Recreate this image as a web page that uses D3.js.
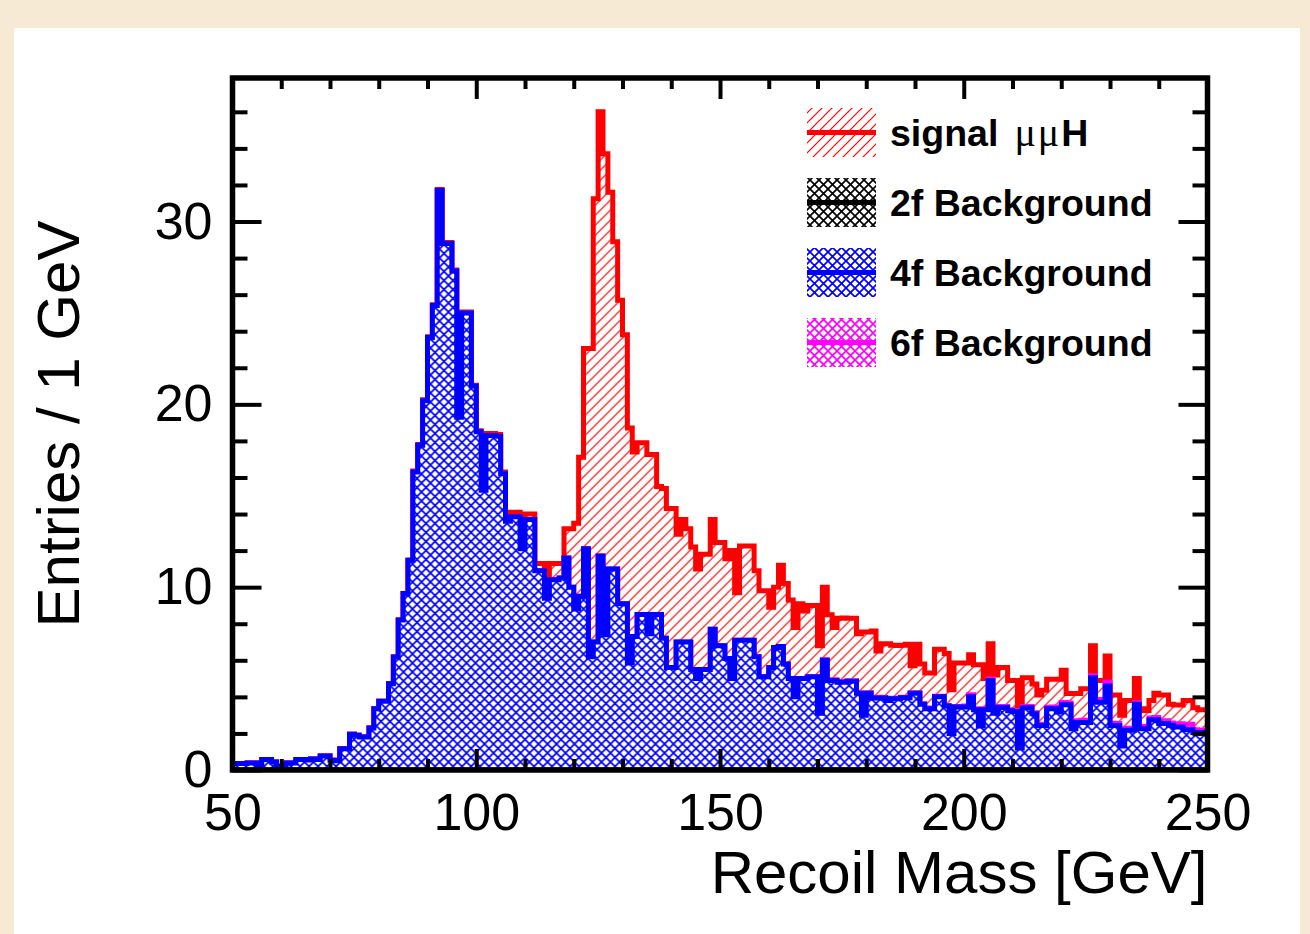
<!DOCTYPE html>
<html>
<head>
<meta charset="utf-8">
<script src="https://cdn.jsdelivr.net/npm/d3@7"></script>
<style>
  html, body { margin: 0; padding: 0; background: #f6ead5; }
  svg { display: block; }
  text { font-family: "Liberation Sans", Arial, Helvetica, sans-serif; }
</style>
</head>
<body>
<svg id="chart"></svg>
<script>
// axis labels / ticks
const xTicks = [50, 100, 150, 200, 250];
const yTicks = [0, 10, 20, 30];
const xTitle = "Recoil Mass [GeV]";
const yTitle = "Entries / 1 GeV";

// 1 GeV bins from 50 to 250
const binEdges = d3.range(50, 251, 1);

// per-bin entries
const sigMuMuH = [
  0,0,0,0,0,0,0,0,0,0,
  0,0,0,0,0,0,0,0,0,0,
  0,0,0,0,0,0,0,0,0,0,
  0,0,0,0,0,0,0,0.05,0.05,0.05,
  0.05,0.05,0.05,0.05,0.05,0.05,0.05,0.05,0.05,0.05,
  0.05,0.05,0.1,0.1,0.1,0.1,0.1,0.25,0.25,0.1,
  0.3,0.3,0.4,0.4,0.5,0.9,0.9,0.8,1.6,3.2,
  4.7,7.6,10.95,16.85,24.25,24.3,26.3,20.6,17.9,16.6,
  14.7,12.85,10.1,9.4,9.4,9.8,8.75,7.0,8.2,8.7,
  8.7,5.9,6.7,6.2,6.7,6.0,6.3,6.3,6.0,5.64,
  5.64,5.46,7.0,2.6,5.15,5.15,5.15,4.7,4.7,4.7,
  3.3,3.3,4.45,4.4,4.3,3.8,4.1,3.7,3.9,3.9,
  3.67,3.97,3.57,2.87,3.47,3.47,3.42,3.42,3.23,4.52,
  3.32,3.63,2.53,2.93,3.07,2.89,2.89,2.84,2.9,1.47,
  2.65,2.17,1.92,1.92,2.57,2.57,2.84,2.36,2.37,2.37,
  2.35,2.18,2.41,3.32,1.65,1.92,2.04,2.13,2.13,1.6,
  1.65,2.06,1.59,1.58,1.57,1.61,1.86,1.53,1.51,1.69,
  1.76,0.51,1.84,1.48,1.72,1.74,1.65,1.08,1.05,1.44,
  1.54,1.56,1.57,1.51,1.53,1.32,0.97,0.87,0.95,1.33,
  1.4,1.4,1.03,1.05,1.02,1.3,1.3,1.2,1.13,1.13
];

const bkg2f = [
  0,0,0,0,0,0,0,0,0,0, 0,0,0,0,0,0,0,0,0,0,
  0,0,0,0,0,0,0,0,0,0, 0,0,0,0,0,0,0,0,0,0,
  0,0,0,0,0,0,0,0,0,0, 0,0,0,0,0,0,0,0,0,0,
  0,0,0,0,0,0,0,0,0,0, 0,0,0,0,0,0,0,0,0,0,
  0,0,0,0,0,0,0,0,0,0, 0,0,0,0,0,0,0,0,0,0,
  0,0,0,0,0,0,0,0,0,0, 0,0,0,0,0,0,0,0,0,0,
  0,0,0,0,0,0,0,0,0,0, 0,0,0,0,0,0,0,0,0,0,
  0,0,0,0,0,0,0,0,0,0, 0,0,0,0,0,0,0,0,0,0,
  0,0,0,0,0,0,0,0,0,0, 0,0,0,0,0,0,0,0,0,0,
  0,0,0,0,0,0,0,0,0,0, 0,0,0,0,0,0,0,0,0,0
];

const bkg4f = [
  0.35,0.35,0.35,0.38,0.38,0.2,0.58,0.58,0.44,0.2,
  0.2,0.38,0.38,0.58,0.58,0.55,0.6,0.58,0.77,0.77,
  0.53,0.5,1.16,1.16,1.95,1.9,1.8,1.8,2.3,3.35,
  3.76,3.76,4.72,6.18,8.2,9.65,11.47,16.3,17.76,20.2,
  23.65,25.4,31.7,28.8,28.8,27.3,19.3,25.0,25.0,21.0,
  18.5,15.3,18.3,18.3,18.25,16.2,13.6,13.85,13.85,12.1,
  13.7,13.7,10.9,10.9,9.4,10.4,10.4,10.5,11.6,10.0,
  8.8,9.5,12.1,6.2,7.0,11.7,7.4,11.0,11.0,9.1,
  9.1,5.85,7.3,8.5,8.5,7.45,8.5,8.5,7.2,5.6,
  5.6,7.0,7.0,7.0,5.5,5.0,5.5,5.5,7.7,6.8,
  6.8,6.1,5.0,7.1,7.1,7.1,7.1,6.2,5.1,5.1,
  5.6,6.7,6.75,5.8,5.0,4.0,5.0,5.0,5.1,5.1,
  3.1,6.0,4.9,4.9,4.8,4.8,4.85,4.85,4.2,3.0,
  4.2,3.94,3.94,3.94,3.8,3.9,3.9,3.95,3.95,4.2,
  4.2,3.6,3.35,3.35,4.0,4.0,3.5,2.0,3.45,3.45,
  3.45,4.0,3.3,2.4,3.3,4.9,3.1,3.42,3.42,3.24,
  3.2,1.2,3.4,3.4,3.08,2.44,2.44,3.35,3.35,3.17,
  3.57,3.57,2.26,2.6,2.6,2.6,5.05,3.7,3.7,4.6,
  2.44,2.44,1.31,2.17,2.17,3.6,2.26,2.26,2.75,2.75,
  2.55,2.55,2.45,2.35,2.35,2.2,2.2,2.05,2.05,2.05
];

const bkg6f = [
  0,0,0,0,0,0,0,0,0,0, 0,0,0,0,0,0,0,0,0,0,
  0,0,0,0,0,0,0,0,0,0, 0,0,0,0,0,0,0,0,0,0,
  0,0,0,0,0,0,0,0,0,0, 0,0,0,0,0,0,0,0,0,0,
  0,0,0,0,0,0,0,0,0,0, 0,0,0,0,0,0,0,0,0,0,
  0,0,0,0,0,0,0,0,0,0, 0,0,0,0,0,0,0,0,0,0,
  0,0,0,0,0,0,0,0,0,0, 0,0,0,0,0,0,0,0,0,0,
  0.03,0.03,0.02,0.03,0.03,0.04,0.03,0.03,0.02,0.03,
  0.03,0.03,0.04,0.03,0.03,0.03,0.02,0.03,0.03,0.03,
  0.03,0.03,0.03,0.04,0.03,0.03,0.03,0.03,0.03,0.03,
  0.05,0.12,0.05,0.04,0.05,0.08,0.06,0.05,0.05,0.06,
  0.05,0.04,0.06,0.07,0.05,0.05,0.06,0.08,0.1,0.1,
  0.12,0.1,0.08,0.1,0.12,0.1,0.1,0.12,0.15,0.2,
  0.12,0.1,0.12,0.12,0.1,0.08,0.12,0.12,0.1,0.12,
  0.15,0.15,0.12,0.15,0.18,0.3,0.3,0.15,0.12,0.12
];

// stack order, bottom first
const stackKeys = ["f2", "f4", "f6", "sig"];
const legendRows = [
  { key: "sig", label: "signal", color: "#ff0000", fill: "hatchSig" },
  { key: "f2", label: "2f Background", color: "#000000", fill: "cross2f" },
  { key: "f4", label: "4f Background", color: "#0000ff", fill: "cross4f" },
  { key: "f6", label: "6f Background", color: "#ff00ff", fill: "cross6f" }
];

class StackedHist {
  margin = {
    top: 78, right: 102.5, bottom: 164, left: 232.5
  }

  constructor(svg, width = 975, height = 692) {
    this.svg = svg;
    this.width = width;
    this.height = height;
  }

  initialize() {
    this.svg = d3.select(this.svg)
      .attr("width", 1310)
      .attr("height", 934);

    // paper
    this.svg.append("rect")
      .attr("x", 0).attr("y", 0).attr("width", 1310).attr("height", 934)
      .attr("fill", "#f6ead5");
    this.svg.append("rect")
      .attr("x", 14).attr("y", 28).attr("width", 1286).attr("height", 920)
      .attr("fill", "#ffffff");

    this.defs = this.svg.append("defs");
    this.makePatterns();

    this.xScale = d3.scaleLinear().domain([50, 250]).range([0, this.width]);
    this.yScale = d3.scaleLinear().domain([0, 37.85]).range([this.height, 0]);

    this.container = this.svg.append("g")
      .attr("transform", `translate(${this.margin.left}, ${this.margin.top})`);

    this.defs.append("clipPath").attr("id", "plotClip")
      .append("rect").attr("width", this.width).attr("height", this.height);

    this.hist = this.container.append("g").attr("clip-path", "url(#plotClip)");
    this.axes = this.container.append("g");
    this.legend = this.svg.append("g");
  }

  makePatterns() {
    const h = 10;
    const sig = this.defs.append("pattern")
      .attr("id", "hatchSig")
      .attr("patternUnits", "userSpaceOnUse")
      .attr("width", h).attr("height", h);
    sig.append("rect").attr("width", h).attr("height", h).attr("fill", "#fff");
    sig.append("path")
      .attr("d", `M-1,1 L1,-1 M0,${h} L${h},0 M${h - 1},${h + 1} L${h + 1},${h - 1}`)
      .attr("stroke", "#ff0000")
      .attr("stroke-width", 1.2);

    const crosses = [["cross2f", "#000000"], ["cross4f", "#0000ff"], ["cross6f", "#ff00ff"]];
    crosses.forEach(([id, color]) => {
      const s = 9;
      const p = this.defs.append("pattern")
        .attr("id", id)
        .attr("patternUnits", "userSpaceOnUse")
        .attr("width", s).attr("height", s);
      p.append("rect").attr("width", s).attr("height", s).attr("fill", "#fff");
      p.append("path")
        .attr("d", `M0,0 L${s},${s} M${s},0 L0,${s}`)
        .attr("stroke", color)
        .attr("stroke-width", 1.7);
    });
  }

  update(rows) {
    let stacked = d3.stack().keys(stackKeys)(rows);
    let lastX = binEdges[binEdges.length - 1];

    // cumulative top of each layer, one point per bin plus the closing edge
    let layers = stacked.map(s => {
      let pts = s.map(d => ({ x: d.data.lo, v: d[1] }));
      pts.push({ x: lastX, v: pts[pts.length - 1].v });
      return { key: s.key, pts };
    });

    let area = d3.area()
      .curve(d3.curveStepAfter)
      .x(d => this.xScale(d.x))
      .y0(this.yScale(0))
      .y1(d => this.yScale(d.v));

    let line = d3.line()
      .curve(d3.curveStepAfter)
      .x(d => this.xScale(d.x))
      .y(d => this.yScale(d.v));

    // top of the stack is drawn first, like THStack
    layers.slice().reverse().forEach(l => {
      let row = legendRows.find(r => r.key === l.key);
      this.hist.append("path")
        .datum(l.pts)
        .attr("d", area)
        .attr("fill", `url(#${row.fill})`);
      this.hist.append("path")
        .datum(l.pts)
        .attr("d", line)
        .attr("fill", "none")
        .attr("stroke", row.color)
        .attr("stroke-width", 5);
    });

    this.drawAxes();
    this.drawLegend();
  }

  drawAxes() {
    let xMinor = d3.range(60, 250, 10).filter(d => d % 50 !== 0);
    let yMinor = d3.range(2, 38, 2).filter(d => d % 10 !== 0);
    let tickStyle = g => {
      g.select(".domain").remove();
      g.selectAll(".tick line").attr("stroke", "#000").attr("stroke-width", 4);
      g.selectAll(".tick text").attr("fill", "#000").attr("font-size", 52)
        .attr("font-family", "'Liberation Sans', Arial, sans-serif");
    };

    this.axes.append("g")
      .attr("transform", `translate(0, ${this.height})`)
      .call(d3.axisBottom(this.xScale).tickValues(xTicks).tickSize(-21).tickPadding(23))
      .call(tickStyle);
    this.axes.append("g")
      .attr("transform", `translate(0, ${this.height})`)
      .call(d3.axisBottom(this.xScale).tickValues(xMinor).tickSize(-11).tickFormat(""))
      .call(tickStyle);
    this.axes.append("g")
      .call(d3.axisTop(this.xScale).tickValues(xTicks).tickSize(-21).tickFormat(""))
      .call(tickStyle);
    this.axes.append("g")
      .call(d3.axisTop(this.xScale).tickValues(xMinor).tickSize(-11).tickFormat(""))
      .call(tickStyle);

    this.axes.append("g")
      .call(d3.axisLeft(this.yScale).tickValues(yTicks).tickSize(-29).tickPadding(20))
      .call(tickStyle);
    this.axes.append("g")
      .call(d3.axisLeft(this.yScale).tickValues(yMinor).tickSize(-15).tickFormat(""))
      .call(tickStyle);
    this.axes.append("g")
      .attr("transform", `translate(${this.width}, 0)`)
      .call(d3.axisRight(this.yScale).tickValues(yTicks).tickSize(-29).tickFormat(""))
      .call(tickStyle);
    this.axes.append("g")
      .attr("transform", `translate(${this.width}, 0)`)
      .call(d3.axisRight(this.yScale).tickValues(yMinor).tickSize(-15).tickFormat(""))
      .call(tickStyle);

    this.axes.append("rect")
      .attr("width", this.width)
      .attr("height", this.height)
      .attr("fill", "none")
      .attr("stroke", "#000")
      .attr("stroke-width", 5.5);

    this.axes.append("text")
      .attr("x", this.width)
      .attr("y", this.height + 123)
      .attr("text-anchor", "end")
      .attr("font-size", 60)
      .text(xTitle);

    this.axes.append("text")
      .attr("transform", `translate(${-154}, ${this.height / 2}) rotate(-90)`)
      .attr("text-anchor", "middle")
      .attr("font-size", 60)
      .text(yTitle);
  }

  drawLegend() {
    let y0 = 132.5, step = 70;
    legendRows.forEach((r, i) => {
      let cy = y0 + i * step;
      let g = this.legend.append("g");
      g.append("rect")
        .attr("x", 807).attr("y", cy - 24.5)
        .attr("width", 69).attr("height", 49)
        .attr("fill", `url(#${r.fill})`);
      g.append("line")
        .attr("x1", 807).attr("x2", 876)
        .attr("y1", cy).attr("y2", cy)
        .attr("stroke", r.color)
        .attr("stroke-width", 5);
      let t = g.append("text")
        .attr("x", 890)
        .attr("y", cy + 13)
        .attr("font-size", 37.5)
        .attr("font-weight", "bold")
        .text(r.label);
      if (r.key === "sig") {
        t.append("tspan")
          .attr("dx", 16)
          .attr("font-family", "'Liberation Serif', 'DejaVu Serif', serif")
          .attr("font-weight", "normal")
          .attr("font-size", 40)
          .attr("letter-spacing", 2)
          .text("\u03bc\u03bc");
        t.append("tspan").text("H");
      }
    });
  }
}

let rows = binEdges.slice(0, -1).map((lo, i) => ({
  lo,
  f2: bkg2f[i],
  f4: bkg4f[i],
  f6: bkg6f[i],
  sig: sigMuMuH[i]
}));

let chart = new StackedHist(document.getElementById("chart"));
chart.initialize();
chart.update(rows);
</script>
</body>
</html>
